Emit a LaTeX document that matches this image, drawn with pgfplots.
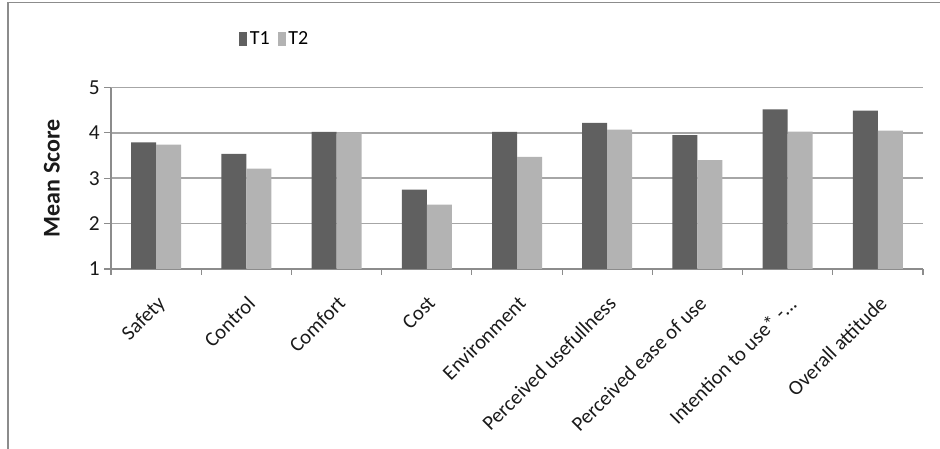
\documentclass[border=0pt]{standalone}
\usepackage{fontspec}
\setmainfont{Carlito}
\usepackage{pgfplots}
\pgfplotsset{compat=1.18}

\definecolor{tone1}{HTML}{606060}
\definecolor{tone2}{HTML}{B3B3B3}
\definecolor{gridgray}{HTML}{A6A6A6}
\definecolor{axisgray}{HTML}{8C8C8C}
\definecolor{labelgray}{HTML}{1A1A1A}

\pgfplotstableread{
idx T1   T2
0   3.79 3.74
1   3.54 3.21
2   4.02 4.01
3   2.75 2.42
4   4.02 3.47
5   4.22 4.07
6   3.95 3.40
7   4.52 4.03
8   4.49 4.05
}\scores

\begin{document}
\begin{tikzpicture}
  \useasboundingbox (0pt,0pt) rectangle (705pt,336.75pt);
  % outer chart frame (top and left edges)
  \draw[axisgray, line width=1.1pt] (6pt,0pt) -- (6pt,335pt) -- (705pt,335pt);
  \begin{axis}[
    at={(83.25pt,135pt)}, anchor=south west,
    scale only axis,
    width=609pt, height=136.1pt,
    xmin=-0.5, xmax=8.5, ymin=1, ymax=5,
    ybar, bar width=18.75pt,
    ytick={1,2,3,4,5},
    xtick={0,1,2,3,4,5,6,7,8},
    xticklabels={Safety, Control, Comfort, Cost, Environment,
      Perceived usefullness, Perceived ease of use,
      {Intention to use* -.{}.{}.}, Overall attitude},
    minor xtick={-0.5,0.5,1.5,2.5,3.5,4.5,5.5,6.5,7.5,8.5},
    major x tick style={draw=none},
    minor x tick style={axisgray, line width=0.8pt},
    y tick style={axisgray, line width=0.8pt},
    tick align=outside,
    major tick length=5pt,
    minor tick length=4.5pt,
    axis x line*=bottom, axis y line*=left,
    axis line style={axisgray, line width=0.9pt, -},
    ymajorgrids,
    grid style={gridgray, line width=1.3pt},
    /pgf/number format/assume math mode=true,
    tick label style={font=\fontsize{16}{18}\selectfont, text=labelgray},
    xticklabel style={rotate=45, anchor=north east, inner sep=0pt,
      xshift=-10pt, yshift=-10pt, font=\fontsize{15.5}{17}\selectfont},
    ylabel={\textbf{Mean Score}},
    ylabel style={at={(axis description cs:-0.073,0.5)}, anchor=center,
      rotate=0, font=\fontsize{18}{20}\selectfont, text=labelgray},
    legend style={at={(axis description cs:0.202,1.268)}, anchor=center,
      draw=none, fill=none, font=\fontsize{15}{17}\selectfont,
      /tikz/every even column/.append style={column sep=4pt}},
    legend columns=2,
    legend image code/.code={\fill[#1] (0pt,-5pt) rectangle (6pt,5pt);},
    clip=false,
  ]
    \addplot[fill=tone1, draw=none, bar shift=-9.375pt] table[x=idx, y=T1] {\scores};
    \addplot[fill=tone2, draw=none, bar shift=9.375pt] table[x=idx, y=T2] {\scores};
    \legend{T1, T2}
  \end{axis}
\end{tikzpicture}
\end{document}
